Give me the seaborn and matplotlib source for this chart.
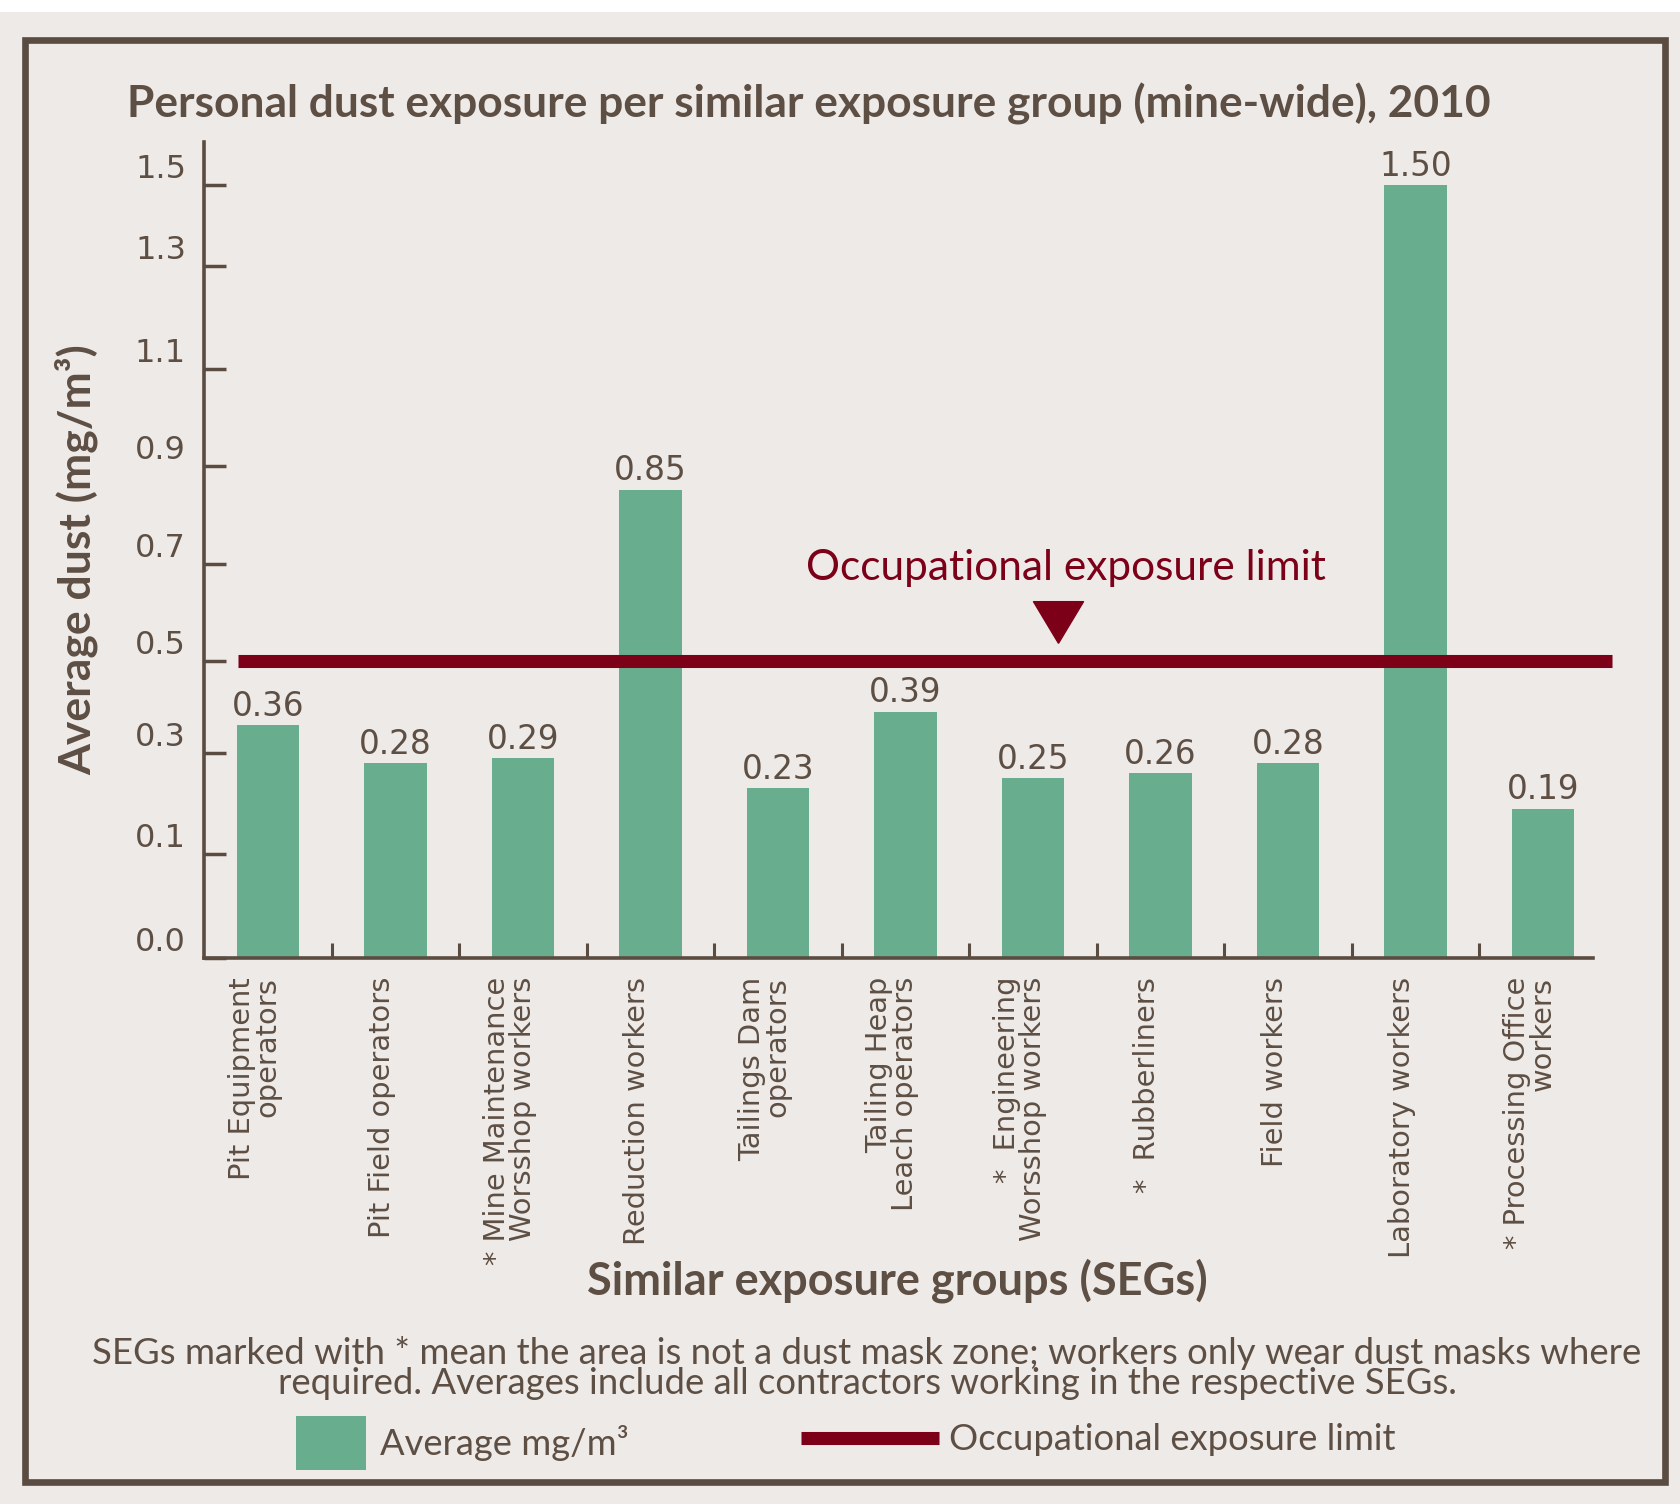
import numpy as np
import matplotlib
matplotlib.use("Agg")
import matplotlib.pyplot as plt
import matplotlib.transforms as mtransforms
from matplotlib.patches import Rectangle, Patch
from matplotlib.lines import Line2D
import seaborn as sns

# Data
groups = [
    "Pit Equipment\noperators",
    "Pit Field operators",
    "* Mine Maintenance\nWorsshop workers",
    "Reduction workers",
    "Tailings Dam\noperators",
    "Tailing Heap\nLeach operators",
    "*  Engineering\nWorsshop workers",
    "*  Rubberliners",
    "Field workers",
    "Laboratory workers",
    "* Processing Office\nworkers",
]
avg_dust = [0.36, 0.28, 0.29, 0.85, 0.23, 0.39, 0.25, 0.26, 0.28, 1.50, 0.19]
exposure_limit = 0.5
y_ticks = [0.0, 0.1, 0.3, 0.5, 0.7, 0.9, 1.1, 1.3, 1.5]
y_tick_labels = ["0.0", "0.1", "0.3", "0.5", "0.7", "0.9", "1.1", "1.3", "1.5"]

# Colours
bg = "#EEEAE7"
brown = "#5E4F44"
frame_col = "#5B4C41"
green = "#69AD8F"
red = "#7B0018"

sns.set_theme(style="white")
plt.rcParams["font.family"] = ["Lato", "DejaVu Sans"]

fig = plt.figure(figsize=(16.8, 15.04), dpi=100, facecolor=bg)
ax = fig.add_axes([204 / 1680, 1 - 958 / 1504, (1613 - 204) / 1680, (958 - 142) / 1504])
ax.set_facecolor(bg)

# the original axis is not linear: ticks sit at (nearly) equal steps
# whatever the value gap between them
knots = y_ticks + [1.7]
knot_pos = [0, 1.08, 2.12, 3.08, 4.08, 5.10, 6.10, 7.17, 8.0, 9.0]


def fwd(v):
    return np.interp(v, knots, knot_pos)


def inv(p):
    return np.interp(p, knot_pos, knots)


sns.barplot(x=groups, y=avg_dust, color=green, saturation=1, width=0.49,
            linewidth=0, ax=ax)
ax.set_yscale("function", functions=(fwd, inv))
ax.set_ylim(0, 1.59)
ax.set_xlim(-0.5, 10.55)

# occupational exposure limit line + marker + label
ax.hlines(exposure_limit, -0.23, 10.54, color=red, linewidth=9.4, capstyle="butt", zorder=3)
tri = [(0, -1), (-1.2, 1), (1.2, 1), (0, -1)]
ax.plot([6.2], [exposure_limit], marker=tri, ms=36, color=red, linestyle="none",
        transform=ax.transData + mtransforms.ScaledTranslation(0, 0.39, fig.dpi_scale_trans))
ax.annotate("Occupational exposure limit", xy=(6.2, exposure_limit), xytext=(8, 93),
            textcoords="offset pixels", ha="center", va="center", fontsize=30.5, color=red)

ax.bar_label(ax.containers[0], labels=[f"{v:.2f}" for v in avg_dust], padding=2,
             fontsize=23.5, color=brown, family="DejaVu Sans")

# axes styling
for s in ["top", "right"]:
    ax.spines[s].set_visible(False)
for s in ["left", "bottom"]:
    ax.spines[s].set_color(frame_col)
    ax.spines[s].set_linewidth(2.6)
ax.spines["bottom"].set_bounds(-0.5, 10.39)

ax.set_yticks(y_ticks)
ax.set_yticklabels(y_tick_labels)
ax.tick_params(axis="y", direction="in", length=16, width=2.5, color=frame_col,
               pad=13, labelsize=23, labelcolor=brown, left=True)
for lab in ax.get_yticklabels():
    lab.set_family("DejaVu Sans")
    lab.set_va("bottom")
ax.yaxis.set_minor_locator(matplotlib.ticker.NullLocator())

ax.set_xticks(np.arange(len(groups)))
ax.set_xticklabels(groups, rotation=90, ha="center", va="top", multialignment="right",
                   family="DejaVu Sans", linespacing=0.9)
ax.set_xticks(np.arange(len(groups) - 1) + 0.5, minor=True)
ax.tick_params(axis="x", which="major", length=0, pad=13.5, labelsize=20.8, labelcolor=brown)
ax.tick_params(axis="x", which="minor", direction="in", length=10.8, width=2.2,
               color=frame_col, bottom=True)
shift = mtransforms.ScaledTranslation(-0.13, 0, fig.dpi_scale_trans)
for lab in ax.get_xticklabels():
    lab.set_transform(lab.get_transform() + shift)
ax.set_xlabel("")
ax.set_ylabel("")

# titles and labels
fig.text(809 / 1680, 1 - 104 / 1504,
         "Personal dust exposure per similar exposure group (mine-wide), 2010",
         ha="center", va="center", fontsize=31.9, fontweight="bold", color=brown)
fig.text(77 / 1680, 1 - 560 / 1504, "Average dust (mg/m\u00b3)", rotation=90,
         ha="center", va="center", fontsize=32, fontweight="bold", color=brown)
fig.text(897 / 1680, 1 - 1281 / 1504, "Similar exposure groups (SEGs)",
         ha="center", va="center", fontsize=32.5, fontweight="bold", color=brown)
fig.text(867 / 1680, 1 - 1368 / 1504,
         "SEGs marked with * mean the area is not a dust mask zone; workers only wear dust masks where\n"
         "required. Averages include all contractors working in the respective SEGs.",
         ha="center", va="center", multialignment="center", fontsize=26.3, color=brown,
         linespacing=0.87)

# legend
fig.legend(handles=[Patch(facecolor=green, edgecolor="none")], labels=["Average mg/m\u00b3"],
           loc="center left", bbox_to_anchor=(296 / 1680, 1 - 1443 / 1504),
           frameon=False, fontsize=26.2, handlelength=1.93, handleheight=1.93,
           handletextpad=0.39, borderpad=0, borderaxespad=0, labelcolor=brown)
fig.legend(handles=[Line2D([0], [0], color=red, lw=9.4, solid_capstyle="butt")],
           labels=["Occupational exposure limit"],
           loc="center left", bbox_to_anchor=(801 / 1680, 1 - 1440 / 1504),
           frameon=False, fontsize=26.2, handlelength=3.8, handletextpad=0.27,
           borderpad=0, borderaxespad=0, labelcolor=brown)

# frame and white strip at the top
fig.add_artist(Rectangle((25.3 / 1680, 1 - 1482 / 1504), (1665 - 25.3) / 1680, (1482 - 40.3) / 1504,
                         transform=fig.transFigure, fill=False, edgecolor=frame_col, linewidth=4.8))
fig.add_artist(Rectangle((0, 1 - 12 / 1504), 1, 12 / 1504, transform=fig.transFigure,
                         facecolor="white", edgecolor="none"))

fig.savefig("out.png", dpi=100, facecolor=bg)
